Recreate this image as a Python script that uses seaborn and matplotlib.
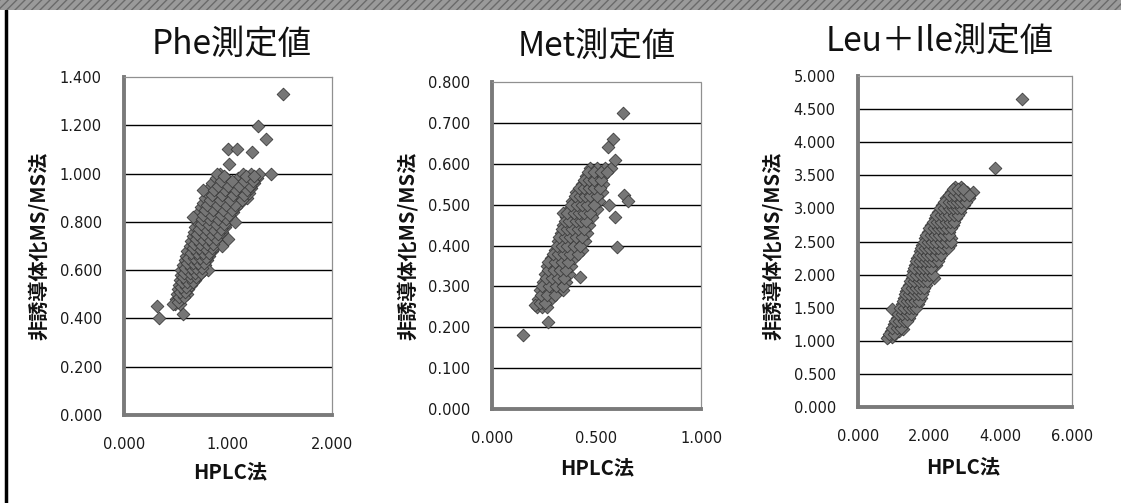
import numpy as np
import pandas as pd
import seaborn as sns
import matplotlib
matplotlib.use("Agg")
import matplotlib.pyplot as plt
from matplotlib.patches import Rectangle
from matplotlib.lines import Line2D

# ---------------- data (row by row) ----------------
phe_x = [0.49, 0.54,
         0.50, 0.55,
         0.51, 0.56, 0.61,
         0.52, 0.57, 0.62,
         0.53, 0.58, 0.64,
         0.54, 0.59, 0.64, 0.68,
         0.55, 0.60, 0.66, 0.72,
         0.55, 0.60, 0.65, 0.70, 0.77,
         0.57, 0.62, 0.67, 0.72, 0.78,
         0.59, 0.64, 0.69, 0.74, 0.80,
         0.60, 0.65, 0.70, 0.76, 0.82,
         0.61, 0.67, 0.73, 0.79, 0.85,
         0.63, 0.69, 0.75, 0.81, 0.88,
         0.64, 0.70, 0.76, 0.83, 0.90,
         0.66, 0.72, 0.78, 0.85, 0.92,
         0.67, 0.73, 0.80, 0.87, 0.94,
         0.68, 0.75, 0.82, 0.89, 0.97,
         0.70, 0.77, 0.84, 0.92, 1.00,
         0.71, 0.78, 0.86, 0.94, 1.02,
         0.72, 0.80, 0.88, 0.97, 1.05,
         0.74, 0.82, 0.91, 0.99, 1.08,
         0.76, 0.84, 0.93, 1.03, 1.12,
         0.78, 0.87, 0.96, 1.08, 1.18,
         0.80, 0.89, 0.99, 1.10, 1.20,
         0.82, 0.92, 1.03, 1.13, 1.22,
         0.85, 0.95, 1.06, 1.16, 1.25,
         0.88, 0.98, 1.10, 1.20, 1.28,
         0.92, 1.14, 1.22, 1.30,
         1.53, 1.29, 1.37, 1.00, 1.09, 1.23, 1.01, 0.32, 0.34, 0.57, 0.47, 0.81,
         0.94, 1.00, 0.66, 1.07, 1.41, 0.76, 0.89]
phe_y = [0.46, 0.46,
         0.48, 0.48,
         0.50, 0.50, 0.50,
         0.52, 0.52, 0.52,
         0.54, 0.54, 0.54,
         0.56, 0.56, 0.56, 0.56,
         0.58, 0.58, 0.58, 0.58,
         0.60, 0.60, 0.60, 0.60, 0.60,
         0.62, 0.62, 0.62, 0.62, 0.62,
         0.64, 0.64, 0.64, 0.64, 0.64,
         0.66, 0.66, 0.66, 0.66, 0.66,
         0.68, 0.68, 0.68, 0.68, 0.68,
         0.70, 0.70, 0.70, 0.70, 0.70,
         0.72, 0.72, 0.72, 0.72, 0.72,
         0.74, 0.74, 0.74, 0.74, 0.74,
         0.76, 0.76, 0.76, 0.76, 0.76,
         0.78, 0.78, 0.78, 0.78, 0.78,
         0.80, 0.80, 0.80, 0.80, 0.80,
         0.82, 0.82, 0.82, 0.82, 0.82,
         0.84, 0.84, 0.84, 0.84, 0.84,
         0.86, 0.86, 0.86, 0.86, 0.86,
         0.88, 0.88, 0.88, 0.88, 0.88,
         0.90, 0.90, 0.90, 0.90, 0.90,
         0.92, 0.92, 0.92, 0.92, 0.92,
         0.94, 0.94, 0.94, 0.94, 0.94,
         0.96, 0.96, 0.96, 0.96, 0.96,
         0.98, 0.98, 0.98, 0.98, 0.98,
         1.00, 1.00, 1.00, 1.00,
         1.33, 1.195, 1.145, 1.10, 1.10, 1.09, 1.04, 0.45, 0.40, 0.42, 0.46, 0.60,
         0.70, 0.73, 0.82, 0.80, 1.00, 0.93, 1.00]
# in-between points of the dense Phe band
phe_fill_x = [0.52, 0.53, 0.58, 0.54, 0.59, 0.55, 0.60,
              0.56, 0.61, 0.66, 0.57, 0.63, 0.69, 0.58, 0.63, 0.68, 0.74,
              0.59, 0.64, 0.69, 0.75, 0.61, 0.66, 0.71, 0.77, 0.62, 0.67, 0.73, 0.79,
              0.64, 0.70, 0.76, 0.82, 0.66, 0.72, 0.78, 0.85, 0.67, 0.73, 0.80, 0.86,
              0.69, 0.75, 0.82, 0.88, 0.70, 0.77, 0.84, 0.90, 0.72, 0.79, 0.86, 0.93,
              0.74, 0.81, 0.88, 0.96, 0.75, 0.82, 0.90, 0.98, 0.76, 0.84, 0.93, 1.01,
              0.78, 0.86, 0.95, 1.04, 0.80, 0.89, 0.98, 1.07, 0.83, 0.92, 1.02, 1.13,
              0.85, 0.94, 1.05, 1.15, 0.87, 0.97, 1.08, 1.18, 0.90, 1.00, 1.11, 1.21,
              0.93, 1.04, 1.15, 1.24, 0.96, 1.17, 1.25]
phe_fill_y = [0.47, 0.49, 0.49, 0.51, 0.51, 0.53, 0.53,
              0.55, 0.55, 0.55, 0.57, 0.57, 0.57, 0.59, 0.59, 0.59, 0.59,
              0.61, 0.61, 0.61, 0.61, 0.63, 0.63, 0.63, 0.63, 0.65, 0.65, 0.65, 0.65,
              0.67, 0.67, 0.67, 0.67, 0.69, 0.69, 0.69, 0.69, 0.71, 0.71, 0.71, 0.71,
              0.73, 0.73, 0.73, 0.73, 0.75, 0.75, 0.75, 0.75, 0.77, 0.77, 0.77, 0.77,
              0.79, 0.79, 0.79, 0.79, 0.81, 0.81, 0.81, 0.81, 0.83, 0.83, 0.83, 0.83,
              0.85, 0.85, 0.85, 0.85, 0.87, 0.87, 0.87, 0.87, 0.89, 0.89, 0.89, 0.89,
              0.91, 0.91, 0.91, 0.91, 0.93, 0.93, 0.93, 0.93, 0.95, 0.95, 0.95, 0.95,
              0.97, 0.97, 0.97, 0.97, 0.99, 0.99, 0.99]

met_x = [0.215, 0.24, 0.265,
         0.22, 0.25, 0.28,
         0.23, 0.26, 0.29, 0.32, 0.34,
         0.245, 0.27, 0.30, 0.33, 0.355,
         0.255, 0.28, 0.31, 0.34, 0.37,
         0.265, 0.29, 0.32, 0.35, 0.38,
         0.28, 0.305, 0.33, 0.36, 0.39,
         0.30, 0.325, 0.35, 0.375, 0.40, 0.43,
         0.315, 0.34, 0.365, 0.39, 0.415, 0.445,
         0.33, 0.355, 0.38, 0.405, 0.43, 0.455,
         0.34, 0.365, 0.39, 0.415, 0.44, 0.465,
         0.355, 0.38, 0.405, 0.43, 0.455, 0.48,
         0.37, 0.395, 0.42, 0.445, 0.47, 0.50,
         0.385, 0.41, 0.435, 0.46, 0.485, 0.51,
         0.40, 0.425, 0.45, 0.475, 0.50, 0.525,
         0.43, 0.455, 0.48, 0.505, 0.53,
         0.45, 0.475, 0.50, 0.53,
         0.47, 0.50, 0.54, 0.57,
         0.627, 0.58, 0.555, 0.59, 0.148, 0.27, 0.60, 0.59, 0.56, 0.63, 0.65, 0.42, 0.34, 0.205]
met_y = [0.25, 0.25, 0.25,
         0.27, 0.27, 0.27,
         0.29, 0.29, 0.29, 0.29, 0.29,
         0.31, 0.31, 0.31, 0.31, 0.31,
         0.33, 0.33, 0.33, 0.33, 0.33,
         0.35, 0.35, 0.35, 0.35, 0.35,
         0.37, 0.37, 0.37, 0.37, 0.37,
         0.39, 0.39, 0.39, 0.39, 0.39, 0.39,
         0.41, 0.41, 0.41, 0.41, 0.41, 0.41,
         0.43, 0.43, 0.43, 0.43, 0.43, 0.43,
         0.45, 0.45, 0.45, 0.45, 0.45, 0.45,
         0.47, 0.47, 0.47, 0.47, 0.47, 0.47,
         0.49, 0.49, 0.49, 0.49, 0.49, 0.49,
         0.51, 0.51, 0.51, 0.51, 0.51, 0.51,
         0.53, 0.53, 0.53, 0.53, 0.53, 0.53,
         0.55, 0.55, 0.55, 0.55, 0.55,
         0.57, 0.57, 0.57, 0.57,
         0.59, 0.59, 0.59, 0.59,
         0.724, 0.66, 0.64, 0.61, 0.181, 0.213, 0.396, 0.47, 0.50, 0.524, 0.51, 0.323, 0.48, 0.255]
met_fill_x = [0.23, 0.255, 0.235, 0.265, 0.30, 0.24, 0.275, 0.305, 0.34,
              0.26, 0.285, 0.315, 0.345, 0.27, 0.295, 0.325, 0.355,
              0.27, 0.30, 0.335, 0.365, 0.29, 0.315, 0.345, 0.375, 0.41,
              0.31, 0.335, 0.36, 0.39, 0.42, 0.32, 0.35, 0.375, 0.40, 0.43,
              0.335, 0.36, 0.385, 0.41, 0.44, 0.35, 0.37, 0.40, 0.425, 0.45,
              0.36, 0.39, 0.415, 0.44, 0.47, 0.38, 0.405, 0.43, 0.455, 0.49,
              0.395, 0.42, 0.445, 0.47, 0.50, 0.415, 0.44, 0.465, 0.49, 0.515,
              0.44, 0.465, 0.49, 0.52, 0.46, 0.49, 0.52, 0.55]
met_fill_y = [0.26, 0.26, 0.28, 0.28, 0.28, 0.30, 0.30, 0.30, 0.30,
              0.32, 0.32, 0.32, 0.32, 0.34, 0.34, 0.34, 0.34,
              0.36, 0.36, 0.36, 0.36, 0.38, 0.38, 0.38, 0.38, 0.38,
              0.40, 0.40, 0.40, 0.40, 0.40, 0.42, 0.42, 0.42, 0.42, 0.42,
              0.44, 0.44, 0.44, 0.44, 0.44, 0.46, 0.46, 0.46, 0.46, 0.46,
              0.48, 0.48, 0.48, 0.48, 0.48, 0.50, 0.50, 0.50, 0.50, 0.50,
              0.52, 0.52, 0.52, 0.52, 0.52, 0.54, 0.54, 0.54, 0.54, 0.54,
              0.56, 0.56, 0.56, 0.56, 0.58, 0.58, 0.58, 0.58]

leu_x = [0.85, 0.95,
         0.92, 1.05, 1.15,
         1.00, 1.12, 1.24,
         1.08, 1.20, 1.32, 1.44,
         1.15, 1.27, 1.39, 1.51,
         1.22, 1.34, 1.46, 1.58, 1.68,
         1.28, 1.40, 1.52, 1.64, 1.76,
         1.35, 1.47, 1.59, 1.71, 1.83,
         1.42, 1.54, 1.66, 1.78, 1.90,
         1.50, 1.62, 1.74, 1.86, 1.98, 2.14,
         1.55, 1.67, 1.79, 1.91, 2.03,
         1.60, 1.72, 1.84, 1.96, 2.08, 2.20,
         1.66, 1.78, 1.90, 2.02, 2.14, 2.28,
         1.73, 1.85, 1.97, 2.09, 2.21, 2.36,
         1.80, 1.92, 2.04, 2.16, 2.28, 2.44, 2.58,
         1.88, 2.00, 2.12, 2.24, 2.36, 2.50, 2.62,
         1.96, 2.08, 2.20, 2.32, 2.44, 2.56,
         2.05, 2.17, 2.29, 2.41, 2.53, 2.66,
         2.15, 2.27, 2.39, 2.51, 2.63, 2.76,
         2.25, 2.37, 2.49, 2.61, 2.73, 2.86,
         2.36, 2.48, 2.60, 2.72, 2.84, 2.96,
         2.48, 2.60, 2.72, 2.84, 2.96, 3.10,
         2.62, 2.76, 2.90, 3.05, 3.22,
         2.72, 2.88,
         4.60, 3.84, 0.95, 1.26, 0.81]
leu_y = [1.05, 1.05,
         1.15, 1.15, 1.15,
         1.25, 1.25, 1.25,
         1.35, 1.35, 1.35, 1.35,
         1.45, 1.45, 1.45, 1.45,
         1.55, 1.55, 1.55, 1.55, 1.55,
         1.65, 1.65, 1.65, 1.65, 1.65,
         1.75, 1.75, 1.75, 1.75, 1.75,
         1.85, 1.85, 1.85, 1.85, 1.85,
         1.95, 1.95, 1.95, 1.95, 1.95, 1.95,
         2.05, 2.05, 2.05, 2.05, 2.05,
         2.15, 2.15, 2.15, 2.15, 2.15, 2.15,
         2.25, 2.25, 2.25, 2.25, 2.25, 2.25,
         2.35, 2.35, 2.35, 2.35, 2.35, 2.35,
         2.45, 2.45, 2.45, 2.45, 2.45, 2.45, 2.45,
         2.55, 2.55, 2.55, 2.55, 2.55, 2.55, 2.55,
         2.65, 2.65, 2.65, 2.65, 2.65, 2.65,
         2.75, 2.75, 2.75, 2.75, 2.75, 2.75,
         2.85, 2.85, 2.85, 2.85, 2.85, 2.85,
         2.95, 2.95, 2.95, 2.95, 2.95, 2.95,
         3.05, 3.05, 3.05, 3.05, 3.05, 3.05,
         3.15, 3.15, 3.15, 3.15, 3.15, 3.15,
         3.25, 3.25, 3.25, 3.25, 3.25,
         3.33, 3.33,
         4.65, 3.61, 1.48, 1.18, 1.04]
leu_fill_x = [0.88, 1.00, 0.96, 1.08, 1.20, 1.04, 1.16, 1.28, 1.38,
              1.12, 1.24, 1.36, 1.48, 1.18, 1.30, 1.42, 1.54, 1.64,
              1.25, 1.37, 1.49, 1.61, 1.72, 1.32, 1.44, 1.56, 1.68, 1.80,
              1.38, 1.50, 1.62, 1.74, 1.86, 1.46, 1.58, 1.70, 1.82, 1.94,
              1.52, 1.64, 1.76, 1.88, 2.00, 2.10, 1.58, 1.70, 1.82, 1.94, 2.06,
              1.63, 1.75, 1.87, 1.99, 2.11, 2.24, 1.70, 1.82, 1.94, 2.06, 2.18, 2.32,
              1.76, 1.88, 2.00, 2.12, 2.24, 2.38, 2.52, 1.84, 1.96, 2.08, 2.20, 2.32, 2.46, 2.60,
              1.92, 2.04, 2.16, 2.28, 2.40, 2.54, 2.00, 2.12, 2.24, 2.36, 2.48, 2.60,
              2.10, 2.22, 2.34, 2.46, 2.58, 2.70, 2.20, 2.32, 2.44, 2.56, 2.68, 2.80,
              2.30, 2.42, 2.54, 2.66, 2.78, 2.90, 2.42, 2.54, 2.66, 2.78, 2.90, 3.02,
              2.55, 2.68, 2.82, 2.96, 3.12, 2.66, 2.80, 2.95]
leu_fill_y = [1.10, 1.10, 1.20, 1.20, 1.20, 1.30, 1.30, 1.30, 1.30,
              1.40, 1.40, 1.40, 1.40, 1.50, 1.50, 1.50, 1.50, 1.50,
              1.60, 1.60, 1.60, 1.60, 1.60, 1.70, 1.70, 1.70, 1.70, 1.70,
              1.80, 1.80, 1.80, 1.80, 1.80, 1.90, 1.90, 1.90, 1.90, 1.90,
              2.00, 2.00, 2.00, 2.00, 2.00, 2.00, 2.10, 2.10, 2.10, 2.10, 2.10,
              2.20, 2.20, 2.20, 2.20, 2.20, 2.20, 2.30, 2.30, 2.30, 2.30, 2.30, 2.30,
              2.40, 2.40, 2.40, 2.40, 2.40, 2.40, 2.40, 2.50, 2.50, 2.50, 2.50, 2.50, 2.50, 2.50,
              2.60, 2.60, 2.60, 2.60, 2.60, 2.60, 2.70, 2.70, 2.70, 2.70, 2.70, 2.70,
              2.80, 2.80, 2.80, 2.80, 2.80, 2.80, 2.90, 2.90, 2.90, 2.90, 2.90, 2.90,
              3.00, 3.00, 3.00, 3.00, 3.00, 3.00, 3.10, 3.10, 3.10, 3.10, 3.10, 3.10,
              3.20, 3.20, 3.20, 3.20, 3.20, 3.30, 3.30, 3.30]

titles = ["Phe測定値", "Met測定値", "Leu＋Ile測定値"]
xlabel_text = "HPLC法"
ylabel_text = "非誘導体化MS/MS法"
xticks_list = [[0, 1, 2], [0, 0.5, 1.0], [0, 2, 4, 6]]
yticks_list = [[0, 0.2, 0.4, 0.6, 0.8, 1.0, 1.2, 1.4],
               [0, 0.1, 0.2, 0.3, 0.4, 0.5, 0.6, 0.7, 0.8],
               [0, 0.5, 1.0, 1.5, 2.0, 2.5, 3.0, 3.5, 4.0, 4.5, 5.0]]
series = [(phe_x + phe_fill_x, phe_y + phe_fill_y),
          (met_x + met_fill_x, met_y + met_fill_y),
          (leu_x + leu_fill_x, leu_y + leu_fill_y)]

# ---------------- style ----------------
sns.set_theme(style="white")
plt.rcParams['font.family'] = ['Noto Sans CJK JP', 'DejaVu Sans']

W, H = 1121, 503
fig = plt.figure(figsize=(W / 100, H / 100), dpi=100)
fig.patch.set_facecolor("white")

# axes boxes in pixels: left, top, right, bottom
boxes = [(124, 77, 332, 415), (492, 82, 701, 409), (858, 76, 1072, 407)]
title_pos = [(232, 44), (597, 46), (940, 41)]
xlabel_pos = [(230, 472), (597, 468), (963, 467)]
ylabel_pos = [(38, 246), (407, 246), (772, 246)]

for i, ((l, t, r, b), (xs, ys)) in enumerate(zip(boxes, series)):
    ax = fig.add_axes([l / W, 1 - b / H, (r - l) / W, (b - t) / H])
    df = pd.DataFrame({"x": xs, "y": ys})
    sns.scatterplot(data=df, x="x", y="y", ax=ax, marker="D", s=42,
                    color="#767676", edgecolor="#3c3c3c", linewidth=0.6, zorder=3)
    xt, yt = xticks_list[i], yticks_list[i]
    ax.set_xlim(xt[0], xt[-1])
    ax.set_ylim(yt[0], yt[-1])
    ax.set_xticks(xt)
    ax.set_yticks(yt)
    ax.set_xticklabels([f"{v:.3f}" for v in xt])
    ax.set_yticklabels([f"{v:.3f}" for v in yt])
    for lab in ax.get_xticklabels() + ax.get_yticklabels():
        lab.set_fontfamily("DejaVu Sans")
        lab.set_fontsize(10.5)
        lab.set_color("#1a1a1a")
    ax.tick_params(axis="x", direction="inout", length=4, width=1.2, color="#6a6a6a", pad=14)
    ax.tick_params(axis="y", direction="inout", length=4, width=1.2, color="#6a6a6a", pad=14)
    for yv in yt[1:-1]:
        ax.axhline(yv, color="black", lw=1.0, zorder=1)
    ax.spines["left"].set_color("#7a7a7a")
    ax.spines["left"].set_linewidth(2.8)
    ax.spines["bottom"].set_color("#7a7a7a")
    ax.spines["bottom"].set_linewidth(2.8)
    for s in ("top", "right"):
        ax.spines[s].set_color("#909090")
        ax.spines[s].set_linewidth(0.9)
        ax.spines[s].set_linestyle((0, (1, 1)))
    ax.set_xlabel("")
    ax.set_ylabel("")
    tx, ty = title_pos[i]
    fig.text(tx / W, 1 - ty / H, titles[i], ha="center", va="center", fontsize=24, color="#111111")
    xx, xy = xlabel_pos[i]
    fig.text(xx / W, 1 - xy / H, xlabel_text, ha="center", va="center", fontsize=14.5,
             fontweight="bold", color="#111111")
    yx, yy = ylabel_pos[i]
    fig.text(yx / W, 1 - yy / H, ylabel_text, ha="center", va="center", fontsize=14.5,
             fontweight="bold", rotation=90, color="#111111")

# frame decoration: top hatched band and left rule
fig.add_artist(Rectangle((0, 1 - 10 / H), 1, 10 / H, transform=fig.transFigure,
                         facecolor="#9a9a9a", edgecolor="#6a6a6a", lw=0, hatch="////", zorder=5))
fig.add_artist(Line2D([6 / W, 6 / W], [0, 1 - 10 / H], transform=fig.transFigure,
                      color="black", lw=2.5))

fig.savefig("out.png", dpi=100)
